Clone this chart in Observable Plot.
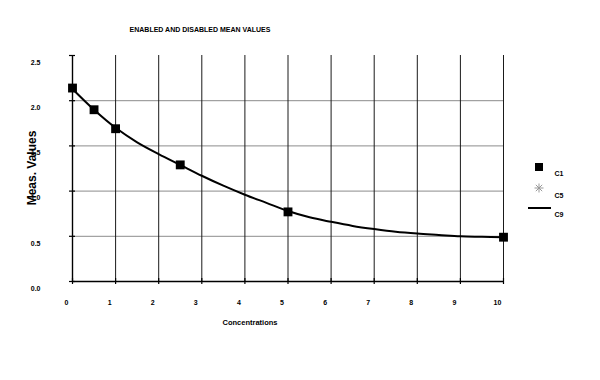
<!DOCTYPE html>
<html>
<head>
<meta charset="utf-8">
<script src="https://cdn.jsdelivr.net/npm/d3@7"></script>
<script src="https://cdn.jsdelivr.net/npm/@observablehq/plot@0.6"></script>
<style>
  html, body { margin: 0; padding: 0; background: #fff; }
  #chart { position: relative; width: 600px; height: 380px; }
</style>
</head>
<body>
<div id="chart"></div>
<script>
// ---- data ----
const c1X = [0, 0.5, 1, 2.5, 5, 10];
const c1Y = [2.14, 1.9, 1.69, 1.29, 0.77, 0.49];

const c9X = [0, 0.5, 1, 1.5, 2, 2.5, 3, 3.5, 4, 4.5, 5, 5.5, 6, 6.5, 7, 7.5, 8, 8.5, 9, 9.5, 10];
const c9Y = [2.13, 1.9, 1.70, 1.54, 1.41, 1.29, 1.17, 1.06, 0.96, 0.87, 0.78, 0.71, 0.66, 0.615, 0.58, 0.55, 0.53, 0.515, 0.50, 0.495, 0.49];

const xTicks = [0, 1, 2, 3, 4, 5, 6, 7, 8, 9, 10];
const yTicks = [0, 0.5, 1, 1.5, 2, 2.5];
const yGrid = [0.5, 1, 1.5, 2];
const xGrid = [1, 2, 3, 4, 5, 6, 7, 8, 9, 10];
const legendLabels = ["C1", "C5", "C9"];
const titleText = "ENABLED AND DISABLED MEAN VALUES";
const xLabel = "Concentrations";
const yLabel = "Meas. Values";

const c1 = c1X.map((x, i) => ({x, y: c1Y[i]}));
const c9 = c9X.map((x, i) => ({x, y: c9Y[i]}));

const font = "'Liberation Sans', Arial, sans-serif";

const svg = Plot.plot({
  width: 600,
  height: 380,
  marginLeft: 72,
  marginRight: 97,
  marginTop: 55,
  marginBottom: 99,
  style: {fontFamily: font, fontSize: "7px", fontWeight: "bold", background: "#fff", color: "#000"},
  x: {domain: [0, 10]},
  y: {domain: [0, 2.5]},
  marks: [
    Plot.gridY(yGrid, {stroke: "#8c8c8c", strokeOpacity: 1, strokeWidth: 1}),
    Plot.gridX(xGrid, {stroke: "#1a1a1a", strokeOpacity: 1, strokeWidth: 1}),
    Plot.ruleX([0], {stroke: "#000", strokeWidth: 1.4}),
    Plot.ruleY([0], {stroke: "#000", strokeWidth: 1.6}),
    // crossing tick marks
    Plot.axisX(xTicks, {tickSize: 6, dy: -3, fill: "none", label: null, strokeWidth: 1.2}),
    Plot.axisY(yTicks, {tickSize: 6, dx: 3, fill: "none", label: null, strokeWidth: 1.2}),
    // tick labels
    Plot.axisX(xTicks, {tickSize: 0, tickPadding: 19, dx: -6, label: null, tickFormat: d => String(d)}),
    Plot.axisY(yTicks, {tickSize: 0, tickPadding: 32, dy: 7, label: null, tickFormat: d3.format(".1f")}),
    Plot.line(c9, {x: "x", y: "y", stroke: "#000", strokeWidth: 2, curve: "catmull-rom"}),
    Plot.dot(c1, {x: "x", y: "y", symbol: "square", fill: "#000", r: 5})
  ]
});

document.getElementById("chart").appendChild(svg);

const s = d3.select(svg);
// title
s.append("text").attr("x", 200).attr("y", 30).attr("text-anchor", "middle")
  .attr("dominant-baseline", "middle")
  .style("font-family", font).style("font-size", "7px").style("font-weight", "bold")
  .text(titleText);
// x label
s.append("text").attr("x", 250).attr("y", 323).attr("text-anchor", "middle")
  .attr("dominant-baseline", "middle")
  .style("font-family", font).style("font-size", "7.5px").style("font-weight", "bold")
  .text(xLabel);
// y label
s.append("text").attr("transform", "translate(33,168) rotate(-90)").attr("text-anchor", "middle")
  .attr("dominant-baseline", "middle")
  .style("font-family", font).style("font-size", "12px").style("font-weight", "bold")
  .text(yLabel);

// legend
const lg = s.append("g");
lg.append("rect").attr("x", 535).attr("y", 163).attr("width", 8).attr("height", 8).attr("fill", "#000");
const ax = 539, ay = 188, ar = 4.5;
[0, 45, 90, 135].forEach(a => {
  const rad = a * Math.PI / 180;
  lg.append("line")
    .attr("x1", ax - ar * Math.cos(rad)).attr("y1", ay - ar * Math.sin(rad))
    .attr("x2", ax + ar * Math.cos(rad)).attr("y2", ay + ar * Math.sin(rad))
    .attr("stroke", "#999").attr("stroke-width", 1);
});
lg.append("line").attr("x1", 528).attr("x2", 551).attr("y1", 208).attr("y2", 208)
  .attr("stroke", "#000").attr("stroke-width", 2);
[174, 196, 215].forEach((y, i) => {
  lg.append("text").attr("x", 559).attr("y", y).attr("dominant-baseline", "middle")
    .style("font-family", font).style("font-size", "7px").style("font-weight", "bold")
    .text(legendLabels[i]);
});
</script>
</body>
</html>
